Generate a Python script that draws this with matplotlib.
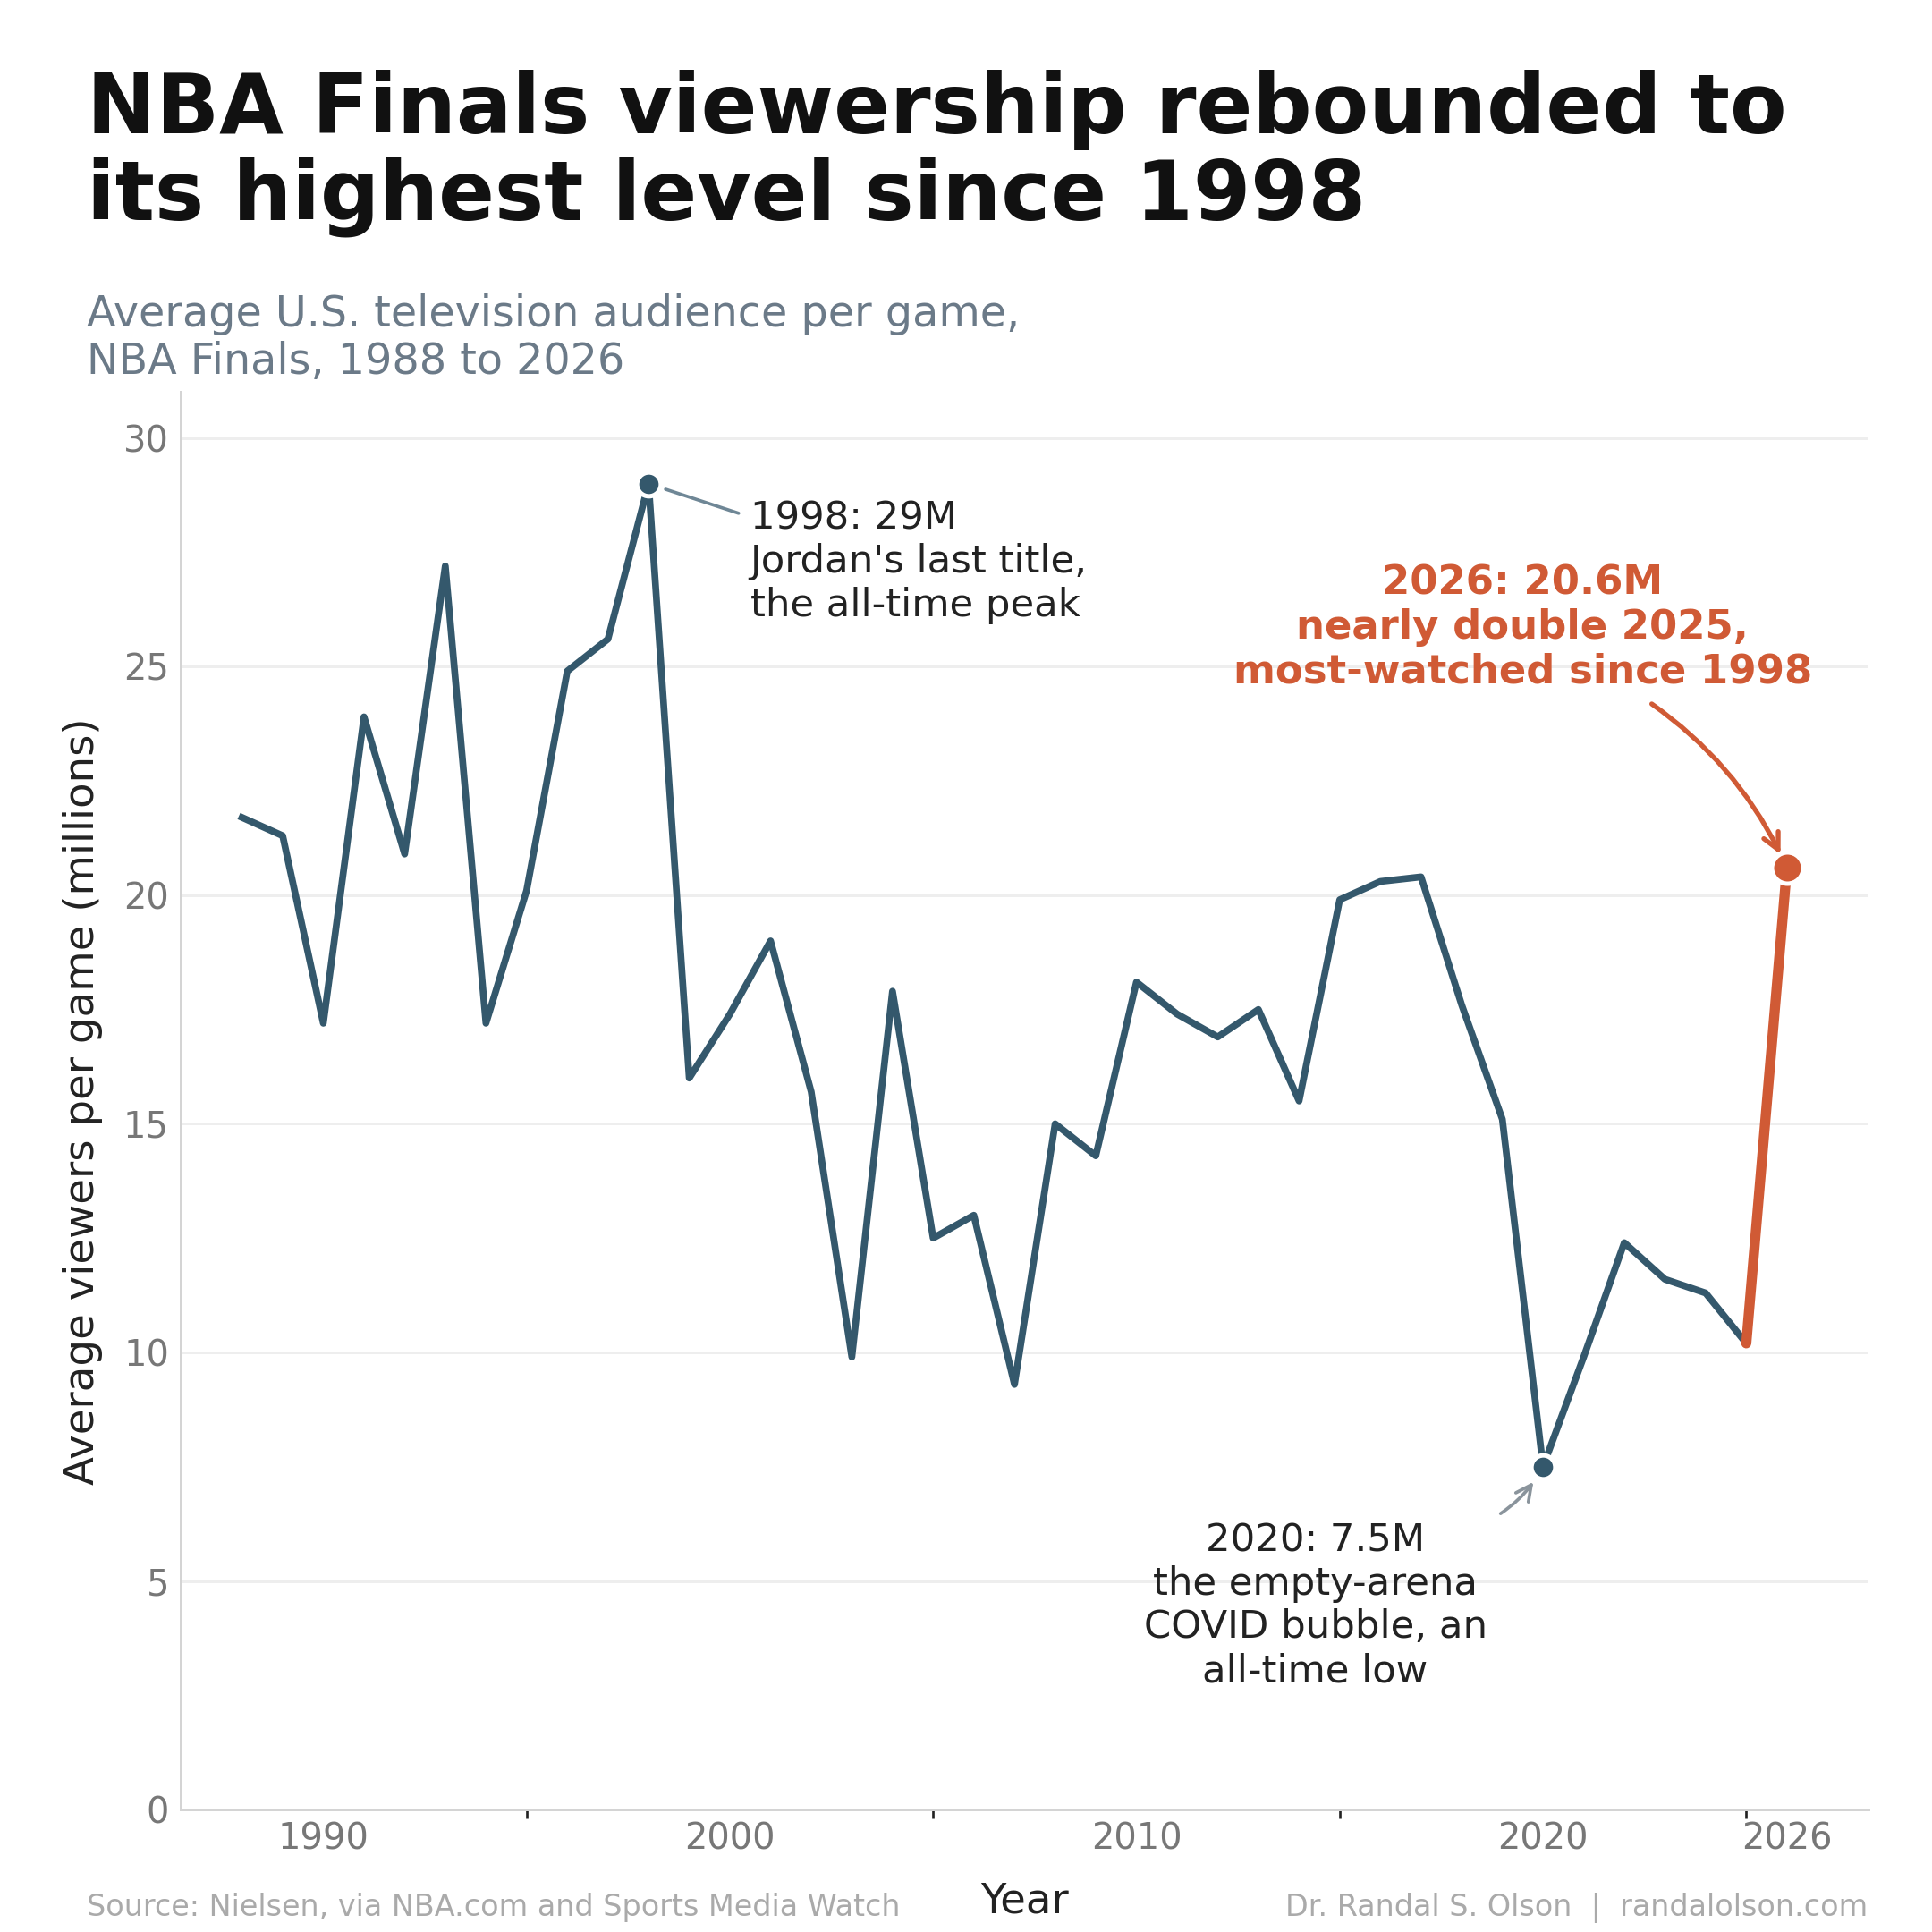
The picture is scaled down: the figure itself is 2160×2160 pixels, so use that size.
import matplotlib
matplotlib.use("Agg")
import matplotlib.pyplot as plt

# NBA Finals average viewers per game (millions)
years = list(range(1988, 2027))
viewers = [21.7, 21.3, 17.2, 23.9, 20.9, 27.2, 17.2, 20.1, 24.9, 25.6,
           29.0, 16.0, 17.4, 19.0, 15.7, 9.9, 17.9, 12.5, 13.0, 9.3,
           15.0, 14.3, 18.1, 17.4, 16.9, 17.5, 15.5, 19.9, 20.3, 20.4,
           17.6, 15.1, 7.5, 9.9, 12.4, 11.6, 11.3, 10.2, 20.6]

major_ticks = [1990, 2000, 2010, 2020, 2026]
minor_ticks = [1995, 2005, 2015, 2025]
y_ticks = [0, 5, 10, 15, 20, 25, 30]

peak_year, peak_val = 1998, 29.0
low_year, low_val = 2020, 7.5
last_year, last_val = 2026, 20.6

BLUE = "#34586c"
ORANGE = "#d05a35"

plt.rcParams['font.family'] = ['DejaVu Sans']

fig = plt.figure(figsize=(9, 9), dpi=240)
ax = fig.add_axes([0.0937, 0.0633, 0.967 - 0.0937, 0.797 - 0.0633])

# main line up to 2025, then the 2025->2026 jump in orange
ax.plot(years[:-1], viewers[:-1], color=BLUE, lw=2.3, zorder=3)
ax.plot(years[-2:], viewers[-2:], color=ORANGE, lw=3.4, solid_capstyle='round', zorder=3)

ax.plot([peak_year, low_year], [peak_val, low_val], 'o', color=BLUE, ms=8,
        mec='white', mew=1.5, zorder=4)
ax.plot([last_year], [last_val], 'o', color=ORANGE, ms=10.5, mec='white', mew=1.5, zorder=4)

ax.set_xlim(1986.5, 2028)
ax.set_ylim(0, 31)

ax.set_xticks(major_ticks)
ax.set_xticks(minor_ticks, minor=True)
ax.set_yticks(y_ticks)
ax.tick_params(axis='x', which='major', length=0, labelsize=12, labelcolor='#777777', pad=4)
ax.tick_params(axis='x', which='minor', length=3, width=0.8, color='#222222')
ax.tick_params(axis='y', length=0, labelsize=12, labelcolor='#777777', pad=4)

for s in ['top', 'right']:
    ax.spines[s].set_visible(False)
for s in ['left', 'bottom']:
    ax.spines[s].set_color('#d4d4d4')
    ax.spines[s].set_linewidth(0.9)

ax.yaxis.grid(True, color='#eeeeee', lw=0.9)
ax.set_axisbelow(True)

ax.set_xlabel("Year", fontsize=14, color='#222222', labelpad=8)
ax.set_ylabel("Average viewers per game (millions)", fontsize=14, color='#222222', labelpad=7)

# annotations
ax.annotate("1998: 29M\nJordan's last title,\nthe all-time peak",
            xy=(peak_year, peak_val), xytext=(2000.5, 28.65),
            ha='left', va='top', fontsize=13, color='#222222',
            arrowprops=dict(arrowstyle='-', color='#6f8796', lw=1.1,
                            relpos=(0, 0.86), shrinkA=2, shrinkB=6))

ax.annotate("2020: 7.5M\nthe empty-arena\nCOVID bubble, an\nall-time low",
            xy=(low_year, low_val), xytext=(2014.4, 6.3),
            ha='center', va='top', fontsize=13, color='#222222',
            multialignment='center',
            arrowprops=dict(arrowstyle='->', color='#8a949c', lw=1.1,
                            relpos=(1, 1), shrinkA=3, shrinkB=6,
                            connectionstyle='arc3,rad=0.15'))

ax.annotate("2026: 20.6M\nnearly double 2025,\nmost-watched since 1998",
            xy=(last_year, last_val), xytext=(2019.5, 27.25),
            ha='center', va='top', fontsize=13.5, fontweight='bold', color=ORANGE,
            multialignment='center',
            arrowprops=dict(arrowstyle='->', color=ORANGE, lw=1.6,
                            relpos=(0.69, 0), shrinkA=4, shrinkB=5,
                            connectionstyle='arc3,rad=-0.15'))

# titles and footer
fig.text(0.045, 0.964, "NBA Finals viewership rebounded to\nits highest level since 1998",
         fontsize=27.8, fontweight='bold', color='#111111', ha='left', va='top', linespacing=1.1)
fig.text(0.045, 0.848, "Average U.S. television audience per game,\nNBA Finals, 1988 to 2026",
         fontsize=14.3, color='#6b7a88', ha='left', va='top', linespacing=1.15)
fig.text(0.045, 0.0085, "Source: Nielsen, via NBA.com and Sports Media Watch",
         fontsize=10, color='#aaaaaa', ha='left', va='baseline')
fig.text(0.967, 0.0085, "Dr. Randal S. Olson  |  randalolson.com",
         fontsize=10, color='#aaaaaa', ha='right', va='baseline')

fig.savefig("out.png", dpi=240, facecolor='white')
